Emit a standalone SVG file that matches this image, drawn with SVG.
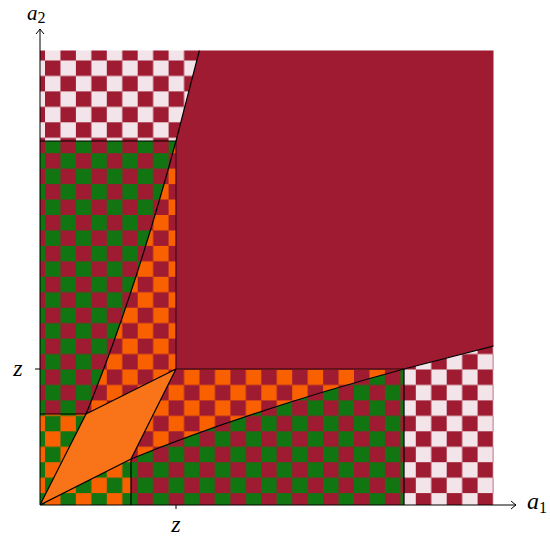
<svg xmlns="http://www.w3.org/2000/svg" width="550" height="539" viewBox="0 0 550 539">
<style>
.edge{fill:none;stroke:#000;stroke-width:1.2;stroke-linejoin:round}
.inner{fill:none;stroke:#4f0c18;stroke-width:1.3}
.axis{fill:none;stroke:#000;stroke-width:1}
.lbl{font-family:"Liberation Serif","DejaVu Serif",serif;font-style:italic;font-size:24px;fill:#000}
.sub{font-style:normal;font-size:16px}
</style>
<defs>
<pattern id="pk" patternUnits="userSpaceOnUse" x="45" y="60.5" width="30.9" height="30.9">
<rect width="30.9" height="30.9" fill="#9E1B32"/>
<rect x="15.45" width="15.45" height="15.45" fill="#F2E4E8"/>
<rect y="15.45" width="15.45" height="15.45" fill="#F2E4E8"/>
</pattern>
<pattern id="gr" patternUnits="userSpaceOnUse" x="45" y="60.5" width="30.9" height="30.9">
<rect width="30.9" height="30.9" fill="#9E1B32"/>
<rect x="15.45" width="15.45" height="15.45" fill="#117511"/>
<rect y="15.45" width="15.45" height="15.45" fill="#117511"/>
</pattern>
<pattern id="or" patternUnits="userSpaceOnUse" x="45" y="60.5" width="30.9" height="30.9">
<rect width="30.9" height="30.9" fill="#9E1B32"/>
<rect x="15.45" width="15.45" height="15.45" fill="#F96000"/>
<rect y="15.45" width="15.45" height="15.45" fill="#F96000"/>
</pattern>
<pattern id="go" patternUnits="userSpaceOnUse" x="45" y="60.5" width="30.9" height="30.9">
<rect width="30.9" height="30.9" fill="#F96000"/>
<rect x="15.45" width="15.45" height="15.45" fill="#117511"/>
<rect y="15.45" width="15.45" height="15.45" fill="#117511"/>
</pattern>
<clipPath id="plot"><rect x="40" y="50.5" width="453.5" height="454.5"/></clipPath>
<marker id="arr" viewBox="-6 -5 8 10" markerWidth="8" markerHeight="10" refX="0" refY="0" orient="auto" markerUnits="userSpaceOnUse">
<path d="M-5,-4 Q-1.5,-1 0,0 Q-1.5,1 -5,4" fill="none" stroke="#000" stroke-width="1"/>
</marker>
</defs>

<g id="regions" clip-path="url(#plot)">
<g id="topleft-check"><path fill="url(#pk)" d="M40,50 L199.5,50 C191.925,80.25 183.99,110.56 176,141 L40,141 Z"/></g>
<g id="left-green"><path fill="url(#gr)" d="M40,141 L176,141 C151.4,231.94 123.2,323.25 86,414 L40,414 Z"/></g>
<g id="left-orange"><path fill="url(#or)" d="M176,141 L176,369 L86,414 C123.2,323.25 151.4,231.94 176,141 Z"/></g>
<g id="bottom-orange"><path fill="url(#or)" d="M176,369 L404,369 C313.06,393.6 221.75,421.8 131,459 Z"/></g>
<g id="bottom-green"><path fill="url(#gr)" d="M131,459 C221.75,421.8 313.06,393.6 404,369 L404,506 L131,506 Z"/></g>
<g id="right-check"><path fill="url(#pk)" d="M404,369 C434.44,361.01 464.75,353.075 495,345.5 L495,506 L404,506 Z"/></g>
<g id="crimson"><path fill="#9E1B32" d="M199.5,50 L495,50 L495,345.5 C464.75,353.075 434.44,361.01 404,369 L176,369 L176,141 C183.99,110.56 191.925,80.25 199.5,50 Z"/></g>
<g id="corner-check"><path fill="url(#go)" d="M40,414 L86,414 L40,505 Z M40,505 L131,459 L131,506 Z"/></g>
<g id="parallelogram"><path fill="#F97419" d="M40,505 L86,414 L176,369 L131,459 Z"/></g>
</g>

<g id="connectors" clip-path="url(#plot)">
<path class="inner" d="M176,141 L176,369 L404,369"/>
<path class="edge" d="M40,505 L86,414 C123.2,323.25 151.4,231.94 176,141 C183.99,110.56 191.925,80.25 199.5,50"/>
<path class="edge" d="M40,505 L131,459 C221.75,421.8 313.06,393.6 404,369 C434.44,361.01 464.75,353.075 495,345.5"/>
<path class="edge" d="M86,414 L176,369 L131,459"/>
<path class="edge" d="M40,141 L176,141 M40,414 L86,414 M131,459 L131,505 M404,369 L404,505"/>
</g>

<g id="axes">
<path class="axis" d="M40,505 L40,29" marker-end="url(#arr)"/>
<path class="axis" d="M40,505 L516,505" marker-end="url(#arr)"/>
<path class="axis" d="M176,505 L176,509 M35,369 L40,369"/>
<text class="lbl" x="27" y="19.5" style="font-size:21px">a<tspan class="sub" dy="3">2</tspan></text>
<text class="lbl" x="527" y="509">a<tspan class="sub" dy="4">1</tspan></text>
<text class="lbl" x="176" y="532" text-anchor="middle">z</text>
<text class="lbl" x="18" y="376" text-anchor="middle">z</text>
</g>
</svg>
